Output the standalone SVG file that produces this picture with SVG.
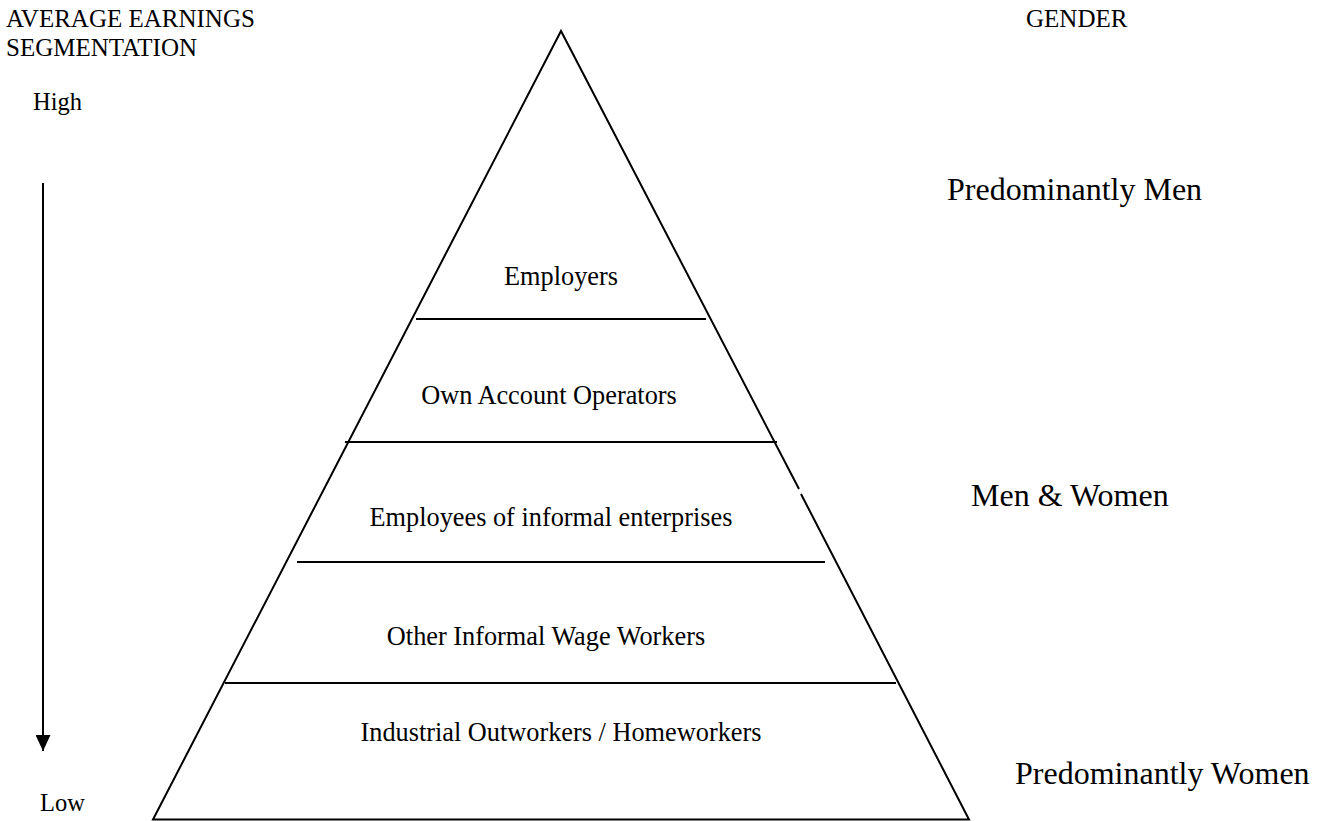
<svg xmlns="http://www.w3.org/2000/svg" width="1329" height="821" viewBox="0 0 1329 821">
<style>
text{font-family:"Liberation Serif","Times New Roman",serif;fill:#000}
.hd{font-size:25px}
.hl{font-size:24.5px}
.side{font-size:32px}
.lv{font-size:26.3px;text-anchor:middle}
.ln{stroke:#000;stroke-width:2;fill:none}
</style>
<defs>
<marker id="ah" viewBox="0 0 10 10" refX="10" refY="5" markerWidth="8" markerHeight="7.5" markerUnits="strokeWidth" orient="auto" preserveAspectRatio="none">
<path d="M0,0 L10,5 L0,10 z" fill="#000"/>
</marker>
</defs>
<rect width="1329" height="821" fill="#fff"/>
<g id="labels">
<text class="hd" x="6" y="27">AVERAGE EARNINGS</text>
<text class="hd" x="6" y="56">SEGMENTATION</text>
<text class="hl" x="33" y="110">High</text>
<text class="hl" x="40" y="811">Low</text>
<text class="hd" x="1026" y="27">GENDER</text>
<text class="side" x="947" y="200">Predominantly Men</text>
<text class="side" x="971" y="506">Men &amp; Women</text>
<text class="side" x="1015" y="784">Predominantly Women</text>
</g>
<g id="pyramid">
<path class="ln" d="M799,489 L561,31 L153,819.5 L969,819.5 L801,494"/>
</g>
<g id="connectors">
<line class="ln" x1="43" y1="183" x2="43" y2="751" marker-end="url(#ah)"/>
<line class="ln" x1="416" y1="319" x2="706" y2="319"/>
<line class="ln" x1="345" y1="442" x2="777" y2="442"/>
<line class="ln" x1="297" y1="562" x2="825" y2="562"/>
<line class="ln" x1="225" y1="683" x2="896" y2="683"/>
</g>
<g id="level-employers"><text class="lv" x="561" y="285">Employers</text></g>
<g id="level-own-account"><text class="lv" x="549" y="404">Own Account Operators</text></g>
<g id="level-employees"><text class="lv" x="551" y="526">Employees of informal enterprises</text></g>
<g id="level-other-wage"><text class="lv" x="546" y="645">Other Informal Wage Workers</text></g>
<g id="level-outworkers"><text class="lv" x="561" y="741">Industrial Outworkers / Homeworkers</text></g>
</svg>
